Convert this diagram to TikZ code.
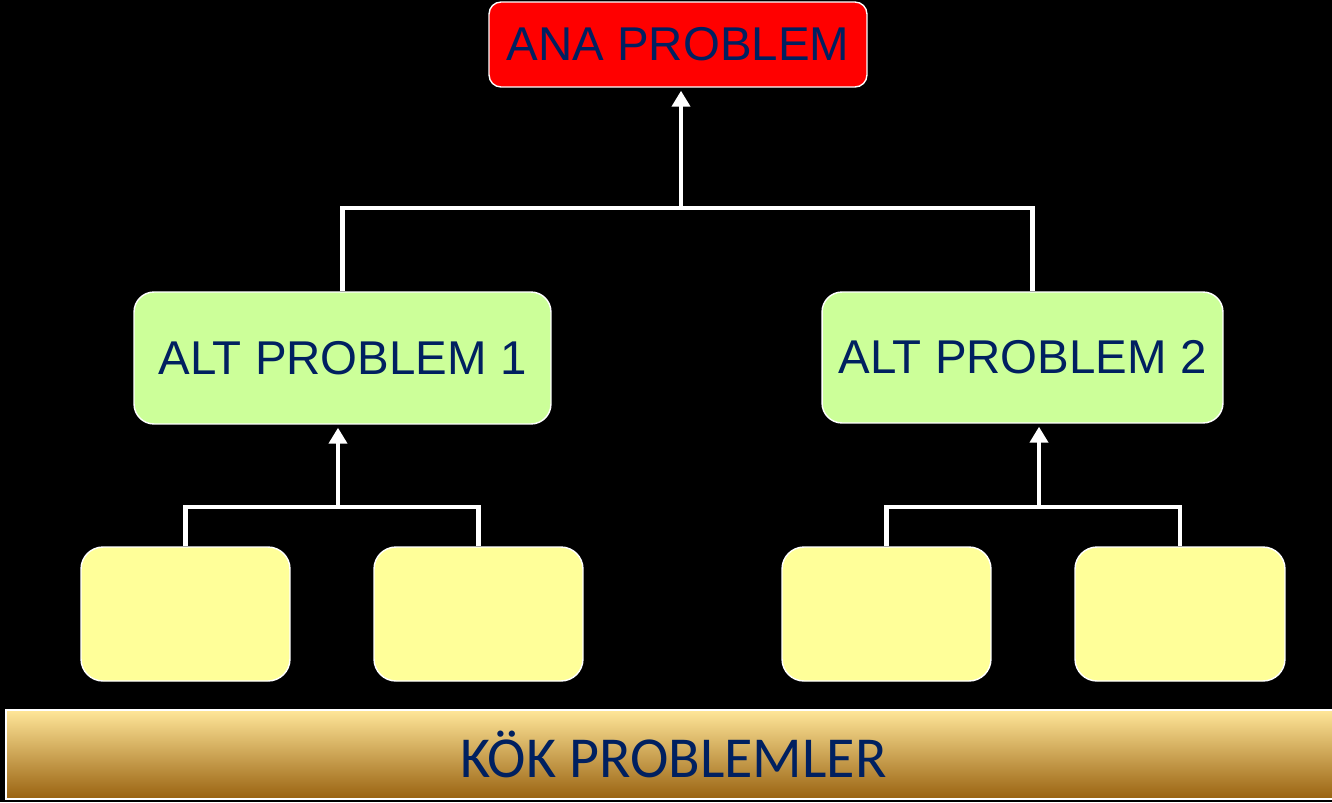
\documentclass[tikz,border=0pt]{standalone}
\usepackage{fontspec}
\usepackage{tikz}
\usetikzlibrary{arrows.meta}
\setmainfont{Liberation Sans}
\newfontfamily\barfont{Carlito}
\definecolor{navy}{RGB}{0,32,96}
\definecolor{anared}{RGB}{255,0,0}
\definecolor{altgreen}{RGB}{204,255,153}
\definecolor{kokyellow}{RGB}{255,255,153}
\definecolor{bartop}{RGB}{255,230,153}
\definecolor{barmid}{RGB}{226,196,128}
\definecolor{barbottom}{RGB}{153,98,16}

\begin{document}
\begin{tikzpicture}[x=0.02cm,y=-0.02cm,
	box/.style={draw=white,line width=0.8pt,text=navy,inner sep=0pt},
	link/.style={draw=white,line width=2.8pt},
	arr/.style={link,-{Triangle[width=0.36cm,length=0.32cm]},shorten >=0.06cm}]
	\fill[black] (0,0) rectangle (1332,802);
	\useasboundingbox (0,0) rectangle (1332,802);
	
	\node (ana) at (678,44.5) [box,fill=anared,rounded corners=0.24cm,minimum width=7.56cm,minimum height=1.7cm,font=\fontsize{27}{30}\selectfont] {ANA PROBLEM};
	\node (alt1) at (342.5,358) [box,fill=altgreen,rounded corners=0.4cm,minimum width=8.34cm,minimum height=2.64cm,font=\fontsize{27}{30}\selectfont] {ALT PROBLEM 1};
	\node (alt2) at (1022.5,357.5) [box,fill=altgreen,rounded corners=0.4cm,minimum width=8.02cm,minimum height=2.62cm,font=\fontsize{27}{30}\selectfont] {ALT PROBLEM 2};
	
	\node (k1) at (185.5,614) [box,fill=kokyellow,rounded corners=0.44cm,minimum width=4.18cm,minimum height=2.68cm] {};
	\node (k2) at (478.5,614) [box,fill=kokyellow,rounded corners=0.44cm,minimum width=4.18cm,minimum height=2.68cm] {};
	\node (k3) at (886.5,614) [box,fill=kokyellow,rounded corners=0.44cm,minimum width=4.18cm,minimum height=2.68cm] {};
	\node (k4) at (1180,614) [box,fill=kokyellow,rounded corners=0.44cm,minimum width=4.2cm,minimum height=2.68cm] {};
	
	\node (kok) at (673.5,754.5) [box,top color=bartop,middle color=barmid,bottom color=barbottom,minimum width=26.7cm,minimum height=1.78cm,font=\barfont\fontsize{33}{36}\selectfont] {KÖK PROBLEMLER};
	
	\coordinate (hub) at (681,208);
	\coordinate (hub1) at (338,507);
	\coordinate (hub2) at (1039,507);
	
	\draw[link] (alt1.north) |- (hub) -| ([xshift=0.2cm]alt2.north);
	\draw[arr] (hub) -- (hub |- ana.south);
	\draw[link] (k1.north) |- (hub1) -| (k2.north);
	\draw[arr] (hub1) -- (hub1 |- alt1.south);
	\draw[link] (k3.north) |- (hub2) -| (k4.north);
	\draw[arr] (hub2) -- (hub2 |- alt2.south);
\end{tikzpicture}
\end{document}
